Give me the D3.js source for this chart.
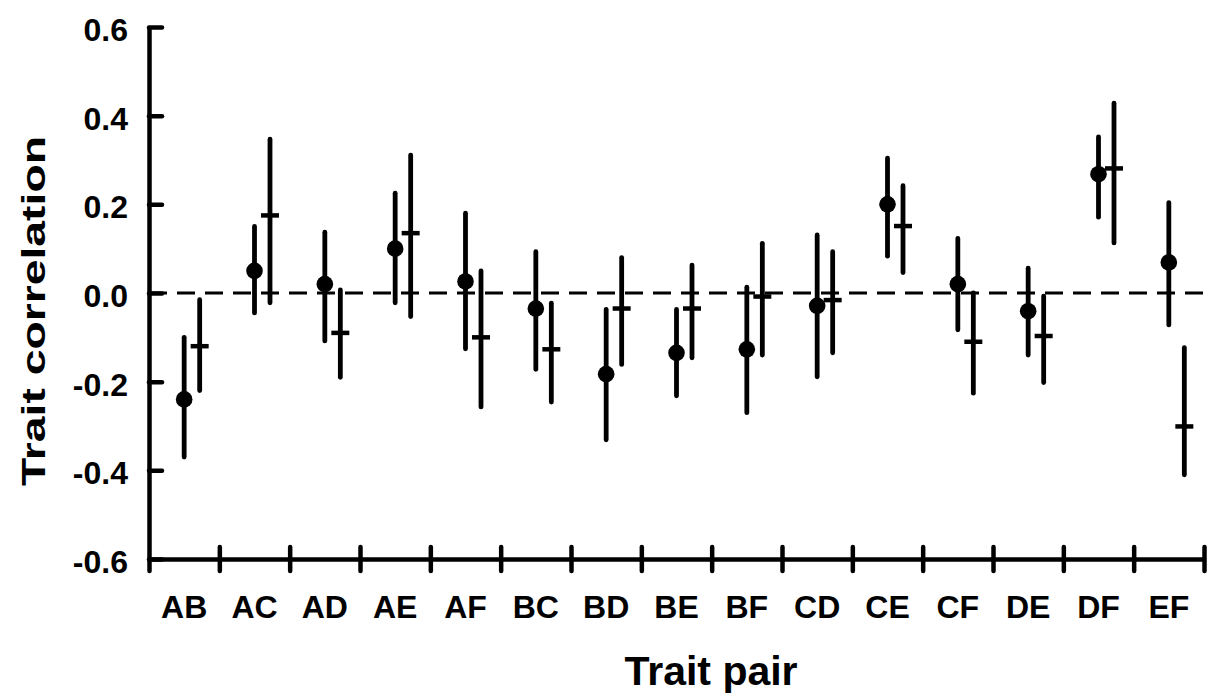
<!DOCTYPE html>
<html>
<head>
<meta charset="utf-8">
<script src="https://cdn.jsdelivr.net/npm/d3@7"></script>
<style>
  body { margin: 0; background: #fff; }
  svg text { font-family: "Liberation Sans", Arial, sans-serif; font-weight: bold; fill: #000; }
</style>
</head>
<body>
<div class="chart"></div>
<script>
const pairs = ['AB', 'AC', 'AD', 'AE', 'AF', 'BC', 'BD', 'BE', 'BF', 'CD', 'CE', 'CF', 'DE', 'DF', 'EF'];

// dot estimates with their intervals
const dotEst = [-0.24, 0.05, 0.02, 0.10, 0.026, -0.035, -0.183, -0.135, -0.127, -0.029, 0.20, 0.02, -0.041, 0.268, 0.069];
const dotLo = [-0.37, -0.045, -0.108, -0.022, -0.126, -0.172, -0.331, -0.232, -0.27, -0.189, 0.083, -0.083, -0.14, 0.171, -0.072];
const dotHi = [-0.10, 0.15, 0.137, 0.225, 0.18, 0.093, -0.037, -0.037, 0.013, 0.131, 0.304, 0.123, 0.056, 0.352, 0.204];

// dash (cross) estimates with their intervals
const dashEst = [-0.12, 0.175, -0.09, 0.135, -0.10, -0.127, -0.035, -0.035, -0.008, -0.016, 0.151, -0.11, -0.097, 0.281, -0.301];
const dashLo = [-0.22, -0.022, -0.19, -0.053, -0.257, -0.246, -0.161, -0.146, -0.14, -0.135, 0.046, -0.226, -0.202, 0.113, -0.41];
const dashHi = [-0.015, 0.347, 0.007, 0.311, 0.05, -0.023, 0.08, 0.063, 0.112, 0.093, 0.242, 0.0, -0.007, 0.428, -0.123];

const yTicks = [-0.6, -0.4, -0.2, 0.0, 0.2, 0.4, 0.6];

const svgWidth = 1211;
const svgHeight = 700;
const margin = { top: 27, right: 7, bottom: 141, left: 149 };
const width = svgWidth - margin.left - margin.right;
const height = svgHeight - margin.top - margin.bottom;

const data = pairs.map((p, i) => ({
  pair: p,
  dot: dotEst[i], dotLo: dotLo[i], dotHi: dotHi[i],
  dash: dashEst[i], dashLo: dashLo[i], dashHi: dashHi[i]
}));

const svg = d3.select('.chart')
  .append('svg')
  .attr('width', svgWidth)
  .attr('height', svgHeight);

const chartGroup = svg.append('g')
  .attr('transform', `translate(${margin.left}, ${margin.top})`);

// scales
const x = d3.scaleBand().domain(pairs).range([0, width]).padding(0);
const xEdge = d3.scaleLinear().domain([0, pairs.length]).range([0, width]);
const y = d3.scaleLinear().domain([-0.6, 0.6]).range([height, 0]);

const dotOff = 0;
const dashOff = 15.5;

// zero reference line
chartGroup.append('line')
  .attr('x1', 0)
  .attr('x2', width)
  .attr('y1', y(0))
  .attr('y2', y(0))
  .attr('stroke', '#000')
  .attr('stroke-width', 3)
  .attr('stroke-dasharray', '18,10');

// y axis
const yAxis = chartGroup.append('g')
  .call(d3.axisLeft(y)
    .tickValues(yTicks)
    .tickFormat(d => d.toFixed(1))
    .tickSizeInner(-13)
    .tickSizeOuter(0)
    .tickPadding(21));
yAxis.select('.domain').attr('stroke-width', 4.5);
yAxis.selectAll('.tick line').attr('stroke-width', 4.5).attr('stroke-linecap', 'round');
yAxis.selectAll('.tick text')
  .attr('dy', '0.42em')
  .style('font-size', '32px')
  .style('font-family', '"Liberation Sans", Arial, sans-serif')
  .style('font-weight', 'bold');

// x axis: boundary ticks
const xAxis = chartGroup.append('g')
  .attr('transform', `translate(0, ${height})`)
  .call(d3.axisBottom(xEdge)
    .tickValues(d3.range(0, pairs.length + 1))
    .tickFormat('')
    .tickSizeInner(12)
    .tickSizeOuter(0));
xAxis.select('.domain').attr('stroke-width', 4.5);
xAxis.selectAll('.tick line')
  .attr('y1', (d, i) => i === 0 ? 0 : -12)
  .attr('y2', 12)
  .attr('stroke-width', 4.5)
  .attr('stroke-linecap', 'round');

// x axis: category labels
const xLabels = chartGroup.append('g')
  .attr('transform', `translate(0, ${height})`)
  .call(d3.axisBottom(x).tickSize(0).tickPadding(36));
xLabels.select('.domain').remove();
xLabels.selectAll('.tick text')
  .style('font-size', '32px')
  .style('font-family', '"Liberation Sans", Arial, sans-serif')
  .style('font-weight', 'bold');

const cx = d => x(d.pair) + x.bandwidth() / 2;

// dot error bars
chartGroup.selectAll('.dot-bar')
  .data(data)
  .enter()
  .append('line')
  .attr('class', 'dot-bar')
  .attr('x1', d => cx(d) + dotOff)
  .attr('x2', d => cx(d) + dotOff)
  .attr('y1', d => y(d.dotLo))
  .attr('y2', d => y(d.dotHi))
  .attr('stroke', '#000')
  .attr('stroke-width', 4.8)
  .attr('stroke-linecap', 'round');

chartGroup.selectAll('.dot')
  .data(data)
  .enter()
  .append('circle')
  .attr('class', 'dot')
  .attr('cx', d => cx(d) + dotOff)
  .attr('cy', d => y(d.dot))
  .attr('r', 8.3)
  .attr('fill', '#000');

// dash error bars
chartGroup.selectAll('.dash-bar')
  .data(data)
  .enter()
  .append('line')
  .attr('class', 'dash-bar')
  .attr('x1', d => cx(d) + dashOff)
  .attr('x2', d => cx(d) + dashOff)
  .attr('y1', d => y(d.dashLo))
  .attr('y2', d => y(d.dashHi))
  .attr('stroke', '#000')
  .attr('stroke-width', 4.8)
  .attr('stroke-linecap', 'round');

chartGroup.selectAll('.dash')
  .data(data)
  .enter()
  .append('line')
  .attr('class', 'dash')
  .attr('x1', d => cx(d) + dashOff - 9)
  .attr('x2', d => cx(d) + dashOff + 9)
  .attr('y1', d => y(d.dash))
  .attr('y2', d => y(d.dash))
  .attr('stroke', '#000')
  .attr('stroke-width', 4.5);

// axis titles
svg.append('text')
  .attr('transform', 'translate(45, 311) rotate(-90)')
  .attr('text-anchor', 'middle')
  .attr('textLength', 350)
  .attr('lengthAdjust', 'spacingAndGlyphs')
  .style('font-size', '34px')
  .text('Trait correlation');

svg.append('text')
  .attr('x', 711)
  .attr('y', 685)
  .attr('text-anchor', 'middle')
  .style('font-size', '41px')
  .text('Trait pair');
</script>
</body>
</html>
